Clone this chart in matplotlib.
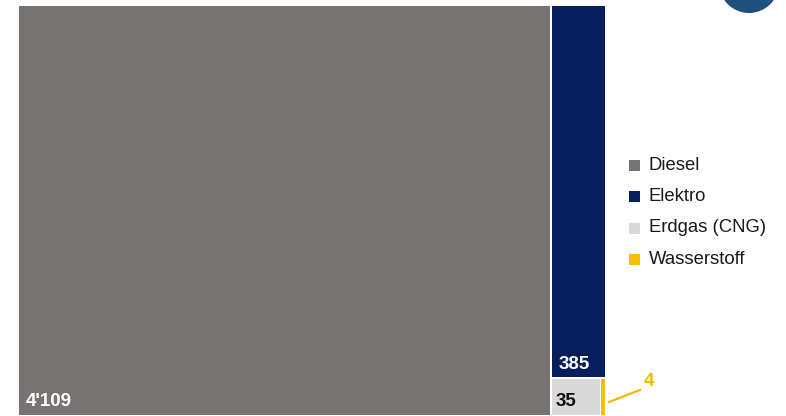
import matplotlib.pyplot as plt
from matplotlib.patches import Rectangle, Circle

###DATA###
labels = ['Diesel', 'Elektro', 'Erdgas (CNG)', 'Wasserstoff']
values = [4109, 385, 35, 4]
value_text = ["4'109", "385", "35", "4"]
colors = ['#777372', '#061f5c', '#d9d9d9', '#fbbf00']
text_colors = ['white', 'white', '#111111', '#f5b800']

plt.rcParams['font.family'] = ['Liberation Sans', 'DejaVu Sans']

###LAYOUT (pixel space)###
X0, X1, Y0, Y1 = 18, 606, 5, 416
gap = 1.5

fig = plt.figure(figsize=(7.86, 4.16), dpi=100)
ax = fig.add_axes([0, 0, 1, 1])
ax.set_xlim(0, 786)
ax.set_ylim(416, 0)
ax.axis('off')

total = sum(values)
W = X1 - X0
H = Y1 - Y0

# Diesel column
wd = W * values[0] / total
rects = [(X0, Y0, wd, H)]
# right column: Elektro on top, then Erdgas + Wasserstoff row
xr = X0 + wd
wr = W - wd
rest = sum(values[1:])
he = H * values[1] / rest
rects.append((xr, Y0, wr, he))
hrow = H - he
rowsum = values[2] + values[3]
wg = wr * values[2] / rowsum
rects.append((xr, Y0 + he, wg, hrow))
rects.append((xr + wg, Y0 + he, wr - wg, hrow))

for (x, y, w, h), c in zip(rects, colors):
    ax.add_patch(Rectangle((x + gap / 2, y + gap / 2), w - gap, h - gap,
                           facecolor=c, edgecolor='none'))

# value labels
ax.text(rects[0][0] + 8, Y1 - 15, value_text[0], color=text_colors[0],
        fontsize=13.5, fontweight='bold', va='center', ha='left')
ax.text(rects[1][0] + 8, rects[1][1] + rects[1][3] - 14, value_text[1],
        color=text_colors[1], fontsize=13.5, fontweight='bold', va='center', ha='left')
ax.text(rects[2][0] + 5, Y1 - 15, value_text[2], color=text_colors[2],
        fontsize=13.5, fontweight='bold', va='center', ha='left')
# leader line for Wasserstoff
wx = rects[3][0] + rects[3][2]
ax.plot([wx + 3, 640], [402, 390], color='#f5b800', lw=1.6)
ax.text(644, 382, value_text[3], color=text_colors[3], fontsize=13.5,
        fontweight='bold', va='center', ha='left')

# legend
for i, (lab, c) in enumerate(zip(labels, colors)):
    yy = 165 + i * 31.5
    ax.add_patch(Rectangle((629, yy - 5.5), 11, 11, facecolor=c, edgecolor='none'))
    ax.text(649, yy, lab, fontsize=13.3, va='center', ha='left', color='#1a1a1a')

# logo circle in top right
ax.add_patch(Circle((749, -17), 30, facecolor='#1f4f7d', edgecolor='none'))

fig.savefig('out.png', dpi=100)
